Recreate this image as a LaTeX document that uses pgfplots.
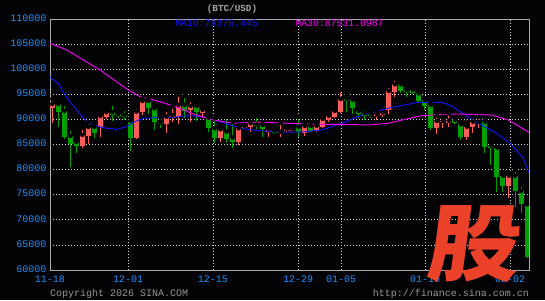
\documentclass[border=0pt]{standalone}
\usepackage{fontspec}
\setmainfont{Liberation Mono}
\newfontfamily\cjk{Noto Sans CJK SC}
\usepackage{pgfplots}
\usepackage{pgfplotstable}
\pgfplotsset{compat=1.18}
\definecolor{candred}{RGB}{255,92,92}
\definecolor{candgreen}{RGB}{0,160,0}
\definecolor{ticklab}{RGB}{30,144,255}
\definecolor{framec}{RGB}{170,170,170}
\definecolor{gridc}{RGB}{215,215,215}
\definecolor{maten}{RGB}{20,20,255}
\definecolor{mathirty}{RGB}{255,0,255}
\definecolor{wm}{RGB}{236,66,42}
\definecolor{bg}{RGB}{3,3,6}
\definecolor{copyc}{RGB}{150,150,150}

% x = day index (0 = 11-18), o h l c in USD
\pgfplotstableread{
x o h l c
0 92270 94063 89342 93067
5 84761 88346 84243 86892
6 86753 89422 85039 88486
8 88426 90876 86494 90677
9 90418 92071 90079 91414
14 86294 92529 86195 91533
15 91414 94203 90876 93665
19 89083 91872 87231 90537
20 90219 92529 89541 90816
21 90537 95000 89023 92868
23 91872 93864 89422 92669
25 91274 92669 90278 91872
28 86354 88227 85557 88027
31 85557 88884 84900 88227
32 88346 88884 88227 88685
33 88426 89541 87549 89223
36 87549 88227 86434 88027
38 87231 89342 86553 87549
39 87749 88286 87490 88087
40 87749 88187 87589 88027
42 87231 89223 86693 88685
44 87888 89083 87549 88745
45 88545 91015 88227 90079
46 89880 91215 89541 90737
47 90537 91872 90219 91673
48 91533 95856 91215 94063
54 90677 91533 89880 91015
55 90876 92529 90537 91334
56 91872 96653 91075 95657
57 95517 98047 94521 96991
64 88346 90737 87031 89681
65 89422 90537 88346 89741
66 89342 91215 88545 89741
69 86553 89083 85896 88545
70 88545 90537 87231 89541
71 89223 90537 88227 89541
76 76793 79263 74402 78785
}\redtab

\pgfplotstableread{
x o h l c
1 93067 93266 88545 91533
2 91673 93067 86095 86494
3 86693 88087 80518 85099
4 85498 86095 83366 84761
7 88486 89223 86235 87350
10 91414 93207 89681 90876
11 91075 91334 90219 90677
12 90876 92071 89880 90418
13 89681 90278 83765 86294
16 93665 94203 91015 92211
17 92211 92529 87888 89422
18 89422 90338 88346 89083
22 92868 94721 90219 91733
24 92669 93207 89681 91533
26 90338 90876 87549 88227
27 88227 90219 85239 86354
29 87549 90537 85358 86035
30 86354 89541 84362 85557
34 89023 90677 88027 88685
35 88884 89223 86553 88027
37 87689 88027 87031 87231
41 88486 90537 86553 87490
43 88685 89342 87549 87749
49 94063 95000 91533 93725
50 93864 93964 91015 92211
51 91673 92011 90338 91015
52 91215 92211 89880 90737
53 91015 91215 90338 90677
58 96991 97509 95199 95657
59 95856 96195 94521 95517
60 95856 96055 95000 95199
61 95199 95517 93406 93665
62 93864 93964 91872 92669
63 92868 93207 87888 88227
67 89880 90278 89083 89382
68 89023 89541 85896 86553
72 89541 89880 83247 84561
73 84761 84900 80916 84243
74 84362 84502 75597 78585
75 78785 79462 75597 76793
77 78785 79920 72609 75737
78 75737 76932 71295 73087
79 73087 73287 62331 62649
}\greentab

\begin{document}
\begin{tikzpicture}
\fill[bg] (0,0) rectangle (545pt,300pt);
\begin{axis}[
  at={(50pt,30pt)}, anchor=south west,
  scale only axis, width=479pt, height=251pt,
  xmin=-0.383, xmax=79.33, ymin=60000, ymax=110000,
  scaled y ticks=false, scaled x ticks=false,
  axis background/.style={fill=bg},
  axis line style={framec, line width=0.9pt},
  xtick={-0.383,12.6,26.74,40.89,48.05,62.03,76.17},
  xticklabels={11-18,12-01,12-15,12-29,01-05,01-19,02-02},
  ytick={60000,65000,70000,75000,80000,85000,90000,95000,100000,105000,110000},
  yticklabels={60000,65000,70000,75000,80000,85000,90000,95000,100000,105000,110000},
  major tick length=0pt,
  xmajorgrids, ymajorgrids,
  major grid style={gridc, line width=0.8pt, dash pattern=on 1pt off 2pt},
  tick label style={font=\fontsize{10}{10}\selectfont, text=ticklab, inner sep=0pt},
  yticklabel style={anchor=east, xshift=-3.3pt, yshift=1pt},
  xticklabel style={anchor=north, yshift=-6pt},
]
% wicks
\addplot[only marks, mark=none, error bars/.cd, y dir=minus, y explicit, error mark=none,
  error bar style={line width=1pt, candred}]
  table[x=x, y=h, y error minus expr=\thisrow{h}-\thisrow{l}] {\redtab};
\addplot[only marks, mark=none, error bars/.cd, y dir=minus, y explicit, error mark=none,
  error bar style={line width=1pt, candgreen}]
  table[x=x, y=h, y error minus expr=\thisrow{h}-\thisrow{l}] {\greentab};
% bodies
\addplot[only marks, mark=none, error bars/.cd, y dir=minus, y explicit, error mark=none,
  error bar style={line width=5pt, candred}]
  table[x=x, y=c, y error minus expr=\thisrow{c}-\thisrow{o}] {\redtab};
\addplot[only marks, mark=none, error bars/.cd, y dir=minus, y explicit, error mark=none,
  error bar style={line width=5pt, candgreen}]
  table[x=x, y=o, y error minus expr=\thisrow{o}-\thisrow{c}] {\greentab};
% MA10
\addplot[maten, line width=0.9pt] coordinates {
(-0.383,98386) (1.0,97191) (1.61,95856) (2.40,94362) (4.06,91872) (5.72,89541)
(7.39,88682) (9.05,88227) (10.72,88027) (12.38,88545) (13.48,89422) (15.14,90219)
(17.92,90418) (20.14,90418) (21.80,90677) (23.46,90737) (25.69,90338) (27.91,89541)
(30.12,88685) (32.35,88027) (34.56,87749) (36.78,87549) (38.73,87430) (42.05,87549)
(44.83,87888) (46.50,88545) (48.16,89223) (49.82,90020) (51.49,90816) (54.25,91673)
(56.48,92410) (58.70,92868) (60.91,93406) (64.80,93406) (66.47,92669) (68.68,90876)
(70.89,89223) (73.95,87231) (76.17,85239) (78.38,82251) (79.3,79460)
};
% MA30
\addplot[mathirty, line width=0.9pt] coordinates {
(-0.383,105159) (2.40,103824) (7.94,99840) (12.65,95856) (14.59,94521) (17.92,93525)
(21.25,92211) (23.46,91075) (26.79,89880) (30.12,89223) (33.45,89422) (35.40,89422)
(39.27,89223) (44.27,89023) (48.71,89023) (52.59,88884) (55.92,89223) (58.70,90020)
(61.47,90737) (64.80,91015) (67.57,91075) (73.12,90876) (75.89,89880) (79.3,87430)
};
\end{axis}
\node[text=gray!70!white, font=\fontsize{9.3}{9.3}\selectfont\bfseries, inner sep=0pt] at (232pt,291pt) {(BTC/USD)};
\node[text=maten, font=\fontsize{9.8}{9.8}\selectfont, inner sep=0pt] at (216.5pt,277pt) {MA10:79375.445};
\node[text=mathirty, font=\fontsize{9.8}{9.8}\selectfont, inner sep=0pt] at (339.5pt,277pt) {MA30:87531.0987};
\node[text=copyc, font=\fontsize{10}{10}\selectfont, anchor=base west, inner sep=0pt] at (50pt,4pt) {Copyright 2026 SINA.COM};
\node[text=copyc, font=\fontsize{10}{10}\selectfont, anchor=base east, inner sep=0pt] at (529pt,4pt) {http://finance.sina.com.cn};
\begin{scope}[shift={(476pt,56pt)}, xscale=1.1, xslant=0.12]
\node[transform shape, text=wm, font=\cjk\bfseries\fontsize{84}{84}\selectfont, inner sep=0pt] at (0,0) {股};
\end{scope}
\end{tikzpicture}
\end{document}
